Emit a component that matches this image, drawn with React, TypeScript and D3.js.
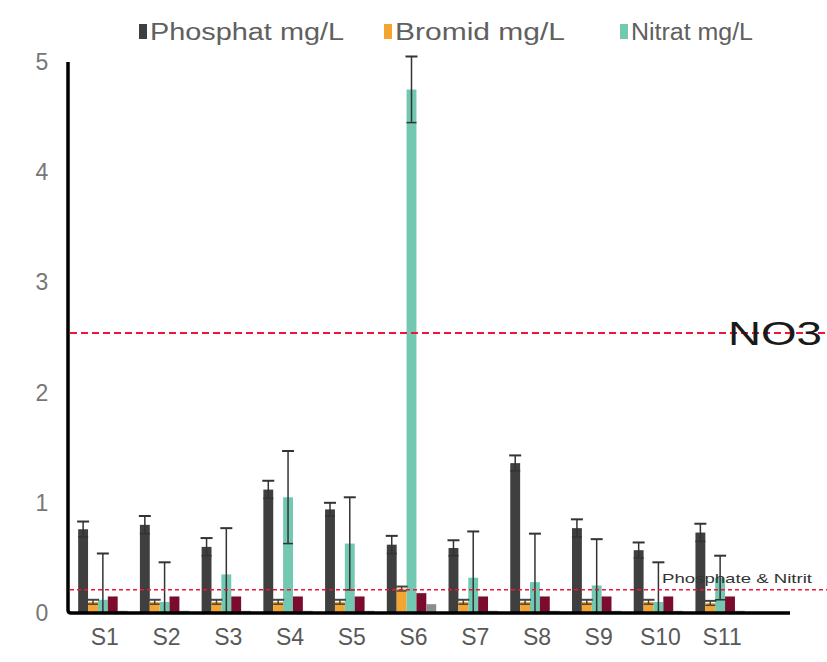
import React from "react";
import * as d3 from "d3";

// sampling sites
const sites = ["S1", "S2", "S3", "S4", "S5", "S6", "S7", "S8", "S9", "S10", "S11"];

// series drawn per site (only first three are in the legend)
const seriesNames = ["Phosphat mg/L", "Bromid mg/L", "Nitrat mg/L", "Nitrit mg/L", "Sulfat mg/L"];
const legendNames = ["Phosphat mg/L", "Bromid mg/L", "Nitrat mg/L"];
const seriesColors = ["#3f3f3f", "#f4a531", "#72c8b1", "#7b0c2e", "#8c8c8c"];

const phosphat = [0.76, 0.8, 0.6, 1.12, 0.94, 0.62, 0.59, 1.36, 0.77, 0.57, 0.73];
const phosphatErr = [0.07, 0.08, 0.08, 0.08, 0.06, 0.08, 0.07, 0.07, 0.08, 0.07, 0.08];
const bromid = [0.1, 0.1, 0.1, 0.1, 0.1, 0.22, 0.1, 0.1, 0.1, 0.1, 0.09];
const bromidErr = [0.02, 0.02, 0.02, 0.02, 0.02, 0.02, 0.02, 0.02, 0.02, 0.02, 0.02];
const nitrat = [0.12, 0.1, 0.35, 1.05, 0.63, 4.75, 0.32, 0.28, 0.25, 0.1, 0.32];
const nitratErr = [0.42, 0.36, 0.42, 0.42, 0.42, 0.3, 0.42, 0.44, 0.42, 0.36, 0.2];
const nitrit = [0.15, 0.15, 0.15, 0.15, 0.15, 0.18, 0.15, 0.15, 0.15, 0.15, 0.15];
const sulfat = [0.02, 0.02, 0.02, 0.02, 0.02, 0.08, 0.02, 0.02, 0.02, 0.02, 0.02];

const yTicks = [0, 1, 2, 3, 4, 5];

// reference limits
const limitNO3 = 2.54;
const limitPN = 0.21;

const font = "'Liberation Sans', Arial, sans-serif";

export default function App() {
  const width = 827;
  const height = 662;
  const y0 = 613;

  const values = [phosphat, bromid, nitrat, nitrit, sulfat];
  const errors = [phosphatErr, bromidErr, nitratErr, null, null];

  const y = d3.scaleLinear().domain([0, 5]).range([y0, 62]);
  const x0 = d3.scaleBand().domain(sites).range([72, 751]).paddingInner(0.2).paddingOuter(0.1);
  const x1 = d3.scaleBand().domain(seriesNames).range([0, x0.bandwidth()]);

  const bars: React.ReactNode[] = [];
  const whiskers: React.ReactNode[] = [];
  sites.forEach((s, i) => {
    seriesNames.forEach((name, k) => {
      const v = values[k][i];
      const bx = (x0(s) as number) + (x1(name) as number);
      bars.push(
        <rect key={`b${i}-${k}`} x={bx} y={y(v)} width={x1.bandwidth()} height={y0 - y(v)} fill={seriesColors[k]} />
      );
      const e = errors[k];
      if (e) {
        const cx = bx + x1.bandwidth() / 2;
        const hi = v + e[i];
        const lo = Math.max(0, v - e[i]);
        const c = k === 1 ? "#444" : "#333";
        whiskers.push(
          <g key={`e${i}-${k}`} stroke={c} strokeWidth={1.5}>
            <line x1={cx} x2={cx} y1={y(lo)} y2={y(hi)} />
            <line x1={cx - 6} x2={cx + 6} y1={y(hi)} y2={y(hi)} strokeWidth={2} />
            {lo > 0 && <line x1={cx - 5} x2={cx + 5} y1={y(lo)} y2={y(lo)} />}
          </g>
        );
      }
    });
  });

  const legendX = [139, 384, 620];
  const legendLen = [194, 170, 122];

  return (
    <svg width={width} height={height} style={{ position: "absolute", left: 0, top: 0, background: "#fff" }}>
      {/* legend */}
      {legendNames.map((n, k) => (
        <g key={n}>
          <rect x={legendX[k]} y={24} width={8} height={15} fill={seriesColors[k]} />
          <text x={legendX[k] + 11} y={40} fontFamily={font} fontSize={23} fill="#606060" textLength={legendLen[k]} lengthAdjust="spacingAndGlyphs">
            {n}
          </text>
        </g>
      ))}

      {/* y tick labels */}
      {yTicks.map((t) => (
        <text key={t} x={42} y={y(t) + 8} textAnchor="middle" fontFamily={font} fontSize={23} fill="#777">
          {t}
        </text>
      ))}

      {bars}
      {whiskers}

      {/* limit lines */}
      <line x1={70} x2={827} y1={y(limitNO3)} y2={y(limitNO3)} stroke="#f0143c" strokeWidth={2} strokeDasharray="7,4" />
      <line x1={70} x2={827} y1={y(limitPN)} y2={y(limitPN)} stroke="#f0143c" strokeWidth={1.5} strokeDasharray="4,3" />
      <text x={728} y={345} fontFamily={font} fontSize={34} fill="#1a1a1a" textLength={94} lengthAdjust="spacingAndGlyphs">
        NO3
      </text>
      <text x={662} y={583} fontFamily={font} fontSize={13} fill="#333" textLength={150} lengthAdjust="spacingAndGlyphs">
        Phosphate &amp; Nitrit
      </text>

      {/* axes */}
      <path d={`M68,62 L68,${y0 - 3} Q68,${y0} 71,${y0} L790,${y0}`} fill="none" stroke="#000" strokeWidth={3.5} />

      {/* site labels */}
      {sites.map((s) => (
        <text key={s} x={(x0(s) as number) + x0.bandwidth() / 2 + 2} y={645} textAnchor="middle" fontFamily={font} fontSize={23} fill="#595959">
          {s}
        </text>
      ))}
    </svg>
  );
}
